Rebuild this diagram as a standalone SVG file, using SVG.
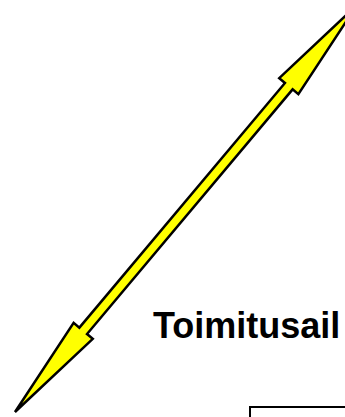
<svg xmlns="http://www.w3.org/2000/svg" width="345" height="417" viewBox="0 0 345 417">
  <style>
    .arrow { fill: #FFFF00; stroke: #000000; stroke-width: 2.5; stroke-linejoin: miter; }
    .label { font-family: "Liberation Sans", Arial, sans-serif; font-weight: bold; font-size: 36px; fill: #000000; }
    .box { fill: #FFFFFF; stroke: #000000; stroke-width: 2; }
  </style>
  <rect width="345" height="417" fill="#FFFFFF"/>
  <g id="connectors">
    <polygon class="arrow" transform="translate(15,412) rotate(-49.96)" points="0,0 106,-12.5 106,-5 425.6,-5 425.6,-12.5 531.6,0 425.6,12.5 425.6,5 106,5 106,12.5"/>
  </g>
  <g id="label-toimitusail">
    <text class="label" x="153" y="338">Toimitusail</text>
  </g>
  <g id="box">
    <rect class="box" x="250" y="407" width="200" height="60"/>
  </g>
</svg>
